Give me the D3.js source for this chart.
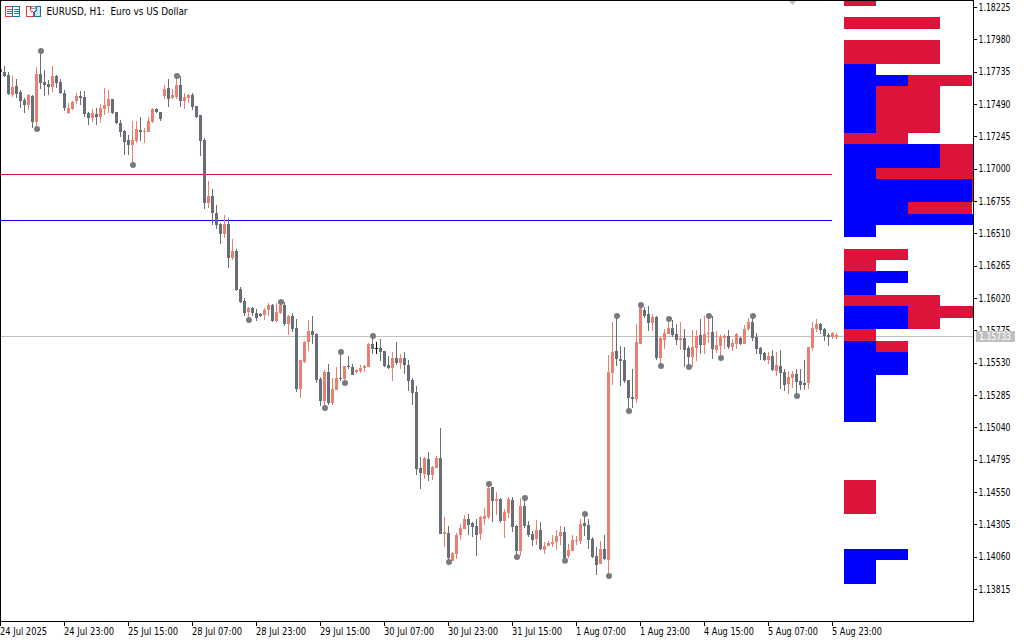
<!DOCTYPE html>
<html>
<head>
<meta charset="utf-8">
<script src="https://cdn.jsdelivr.net/npm/d3@7/dist/d3.min.js"></script>
<style>
html,body{margin:0;padding:0;background:#fff;overflow:hidden}
svg{display:block}
text{font-family:"DejaVu Sans",sans-serif;font-size:10px;fill:#000;white-space:pre}
</style>
</head>
<body>
<div id="chart"></div>
<script>
const timeTicks = [0,16,32,48,64,80,96,112,128,144,160,176,192,208];
const timeLabels = ["24 Jul 2025","24 Jul 23:00","25 Jul 15:00","28 Jul 07:00","28 Jul 23:00","29 Jul 15:00","30 Jul 07:00","30 Jul 23:00","31 Jul 15:00","1 Aug 07:00","1 Aug 23:00","4 Aug 15:00","5 Aug 07:00","5 Aug 23:00"];
const priceTicks = [1.18225,1.17980,1.17735,1.17490,1.17245,1.17000,1.16755,1.16510,1.16265,1.16020,1.15775,1.15530,1.15285,1.15040,1.14795,1.14550,1.14305,1.14060,1.13815];
const currentPrice = 1.15733;
const resistanceLevel = 1.16960;
const supportLevel = 1.16611;

const opens = [
1.17759,1.17736,1.17714,1.17562,1.17630,1.17585,1.17524,1.17486,1.17555,1.17357,
1.17721,1.17661,1.17645,1.17623,1.17706,1.17661,1.17577,1.17426,1.17456,1.17517,
1.17555,1.17547,1.17426,1.17388,1.17418,1.17395,1.17456,1.17479,1.17532,1.17433,
1.17350,1.17289,1.17221,1.17183,1.17214,1.17297,1.17282,1.17282,1.17357,1.17456,
1.17433,1.17555,1.17615,1.17539,1.17547,1.17638,1.17517,1.17539,1.17562,1.17479,
1.17411,1.17221,1.16744,1.16797,1.16668,1.16585,1.16509,1.16585,1.16327,1.16380,
1.16092,1.16001,1.15918,1.15948,1.15910,1.15903,1.15895,1.15933,1.15971,1.15850,
1.15910,1.15971,1.15827,1.15888,1.15797,1.15335,1.15539,1.15691,1.15774,1.15752,
1.15411,1.15244,1.15464,1.15229,1.15327,1.15418,1.15411,1.15509,1.15501,1.15464,
1.15471,1.15494,1.15501,1.15676,1.15645,1.15645,1.15623,1.15517,1.15494,1.15570,
1.15532,1.15570,1.15517,1.15403,1.15312,1.14736,1.14691,1.14805,1.14683,1.14736,
1.14812,1.14236,1.14244,1.14032,1.14085,1.14229,1.14274,1.14350,1.14320,1.14297,
1.14236,1.14350,1.14365,1.14592,1.14486,1.14501,1.14335,1.14395,1.14494,1.14297,
1.14107,1.14448,1.14304,1.14236,1.14198,1.14267,1.14115,1.14145,1.14160,1.14176,
1.14221,1.14251,1.14069,1.14107,1.14183,1.14183,1.14320,1.14304,1.14198,1.14069,
1.14009,1.14123,1.14039,1.15456,1.15623,1.15562,1.15555,1.15403,1.15274,1.15259,
1.15676,1.15933,1.15903,1.15835,1.15880,1.15570,1.15706,1.15752,1.15797,1.15752,
1.15706,1.15721,1.15645,1.15577,1.15645,1.15744,1.15668,1.15752,1.15767,1.15630,
1.15661,1.15721,1.15736,1.15653,1.15676,1.15721,1.15676,1.15789,1.15843,1.15729,
1.15645,1.15608,1.15555,1.15585,1.15471,1.15509,1.15464,1.15373,1.15418,1.15448,
1.15395,1.15380,1.15380,1.15645,1.15789,1.15827,1.15789,1.15744,1.15729,1.15729];

const highs = [
1.17777,1.17782,1.17739,1.17706,1.17683,1.17600,1.17539,1.17570,1.17562,1.17774,
1.17896,1.17752,1.17676,1.17782,1.17714,1.17683,1.17600,1.17501,1.17517,1.17577,
1.17592,1.17592,1.17433,1.17456,1.17464,1.17494,1.17615,1.17600,1.17532,1.17433,
1.17373,1.17297,1.17259,1.17365,1.17365,1.17395,1.17312,1.17395,1.17464,1.17464,
1.17433,1.17638,1.17683,1.17608,1.17706,1.17706,1.17577,1.17570,1.17577,1.17479,
1.17411,1.17236,1.16911,1.16850,1.16729,1.16592,1.16653,1.16630,1.16471,1.16395,
1.16107,1.16024,1.15956,1.15956,1.15941,1.15910,1.15948,1.15986,1.15978,1.15986,
1.15994,1.15994,1.15896,1.15911,1.15865,1.15555,1.15699,1.15858,1.15888,1.15759,
1.15426,1.15479,1.15524,1.15418,1.15501,1.15615,1.15509,1.15585,1.15524,1.15486,
1.15517,1.15517,1.15683,1.15736,1.15691,1.15714,1.15623,1.15585,1.15615,1.15691,
1.15600,1.15615,1.15555,1.15418,1.15358,1.14820,1.14820,1.14858,1.14752,1.14827,
1.15039,1.14365,1.14297,1.14100,1.14244,1.14312,1.14380,1.14388,1.14327,1.14350,
1.14373,1.14433,1.14615,1.14592,1.14554,1.14509,1.14426,1.14517,1.14517,1.14304,
1.14509,1.14509,1.14335,1.14259,1.14342,1.14327,1.14176,1.14183,1.14229,1.14267,
1.14297,1.14289,1.14160,1.14229,1.14221,1.14350,1.14388,1.14350,1.14213,1.14138,
1.14183,1.14229,1.15592,1.15843,1.15888,1.15661,1.15653,1.15403,1.15486,1.15827,
1.15971,1.15956,1.15964,1.15903,1.15888,1.15729,1.15789,1.15865,1.15858,1.15827,
1.15843,1.15789,1.15661,1.15782,1.15782,1.15865,1.15888,1.15888,1.15888,1.15774,
1.15744,1.15752,1.15782,1.15714,1.15759,1.15729,1.15820,1.15873,1.15888,1.15759,
1.15653,1.15615,1.15615,1.15630,1.15615,1.15630,1.15486,1.15471,1.15471,1.15486,
1.15486,1.15555,1.15653,1.15843,1.15865,1.15835,1.15797,1.15759,1.15767,1.15759];

const lows = [
1.17721,1.17698,1.17562,1.17547,1.17539,1.17464,1.17426,1.17448,1.17312,1.17304,
1.17608,1.17555,1.17562,1.17585,1.17615,1.17570,1.17441,1.17418,1.17448,1.17494,
1.17486,1.17395,1.17335,1.17357,1.17335,1.17350,1.17411,1.17426,1.17418,1.17342,
1.17244,1.17107,1.17107,1.17032,1.17198,1.17214,1.17198,1.17282,1.17350,1.17426,
1.17365,1.17532,1.17471,1.17532,1.17532,1.17471,1.17456,1.17501,1.17448,1.17388,
1.17100,1.16698,1.16706,1.16577,1.16547,1.16433,1.16479,1.16251,1.16312,1.16077,
1.15986,1.15887,1.15857,1.15887,1.15850,1.15880,1.15857,1.15887,1.15842,1.15842,
1.15903,1.15812,1.15744,1.15767,1.15312,1.15267,1.15532,1.15623,1.15676,1.15380,
1.15206,1.15191,1.15214,1.15214,1.15327,1.15395,1.15380,1.15486,1.15441,1.15448,
1.15456,1.15464,1.15501,1.15600,1.15600,1.15547,1.15501,1.15486,1.15395,1.15517,
1.15486,1.15448,1.15320,1.15214,1.14683,1.14577,1.14653,1.14638,1.14645,1.14736,
1.14236,1.14138,1.14024,1.14032,1.14047,1.14191,1.14274,1.14229,1.14213,1.14069,
1.14191,1.14304,1.14350,1.14327,1.14380,1.14320,1.14206,1.14357,1.14251,1.14062,
1.14069,1.14282,1.14213,1.14145,1.14153,1.14115,1.14085,1.14145,1.14138,1.14115,
1.14153,1.14032,1.14054,1.14107,1.14153,1.14160,1.14221,1.14123,1.14054,1.13926,
1.14009,1.14039,1.13918,1.15365,1.15509,1.15358,1.15380,1.15168,1.15191,1.15229,
1.15676,1.15873,1.15774,1.15774,1.15555,1.15509,1.15638,1.15752,1.15729,1.15668,
1.15630,1.15501,1.15501,1.15501,1.15547,1.15600,1.15600,1.15683,1.15562,1.15608,
1.15570,1.15638,1.15638,1.15623,1.15638,1.15668,1.15676,1.15774,1.15699,1.15600,
1.15555,1.15547,1.15524,1.15471,1.15433,1.15335,1.15320,1.15297,1.15342,1.15282,
1.15327,1.15327,1.15335,1.15623,1.15767,1.15752,1.15699,1.15661,1.15714,1.15714];

const closes = [
1.17736,1.17706,1.17570,1.17623,1.17570,1.17517,1.17486,1.17562,1.17357,1.17721,
1.17653,1.17638,1.17623,1.17706,1.17653,1.17577,1.17464,1.17464,1.17509,1.17555,
1.17539,1.17418,1.17388,1.17426,1.17395,1.17464,1.17486,1.17532,1.17426,1.17350,
1.17282,1.17206,1.17183,1.17221,1.17304,1.17282,1.17289,1.17365,1.17456,1.17433,
1.17380,1.17608,1.17532,1.17562,1.17638,1.17517,1.17547,1.17562,1.17471,1.17395,
1.17214,1.16744,1.16797,1.16668,1.16577,1.16509,1.16585,1.16327,1.16380,1.16085,
1.15994,1.15910,1.15948,1.15910,1.15872,1.15887,1.15933,1.15971,1.15850,1.15918,
1.15971,1.15827,1.15888,1.15789,1.15335,1.15555,1.15691,1.15774,1.15744,1.15403,
1.15244,1.15464,1.15229,1.15335,1.15418,1.15411,1.15509,1.15501,1.15441,1.15479,
1.15494,1.15509,1.15676,1.15638,1.15645,1.15615,1.15509,1.15494,1.15570,1.15532,
1.15570,1.15517,1.15395,1.15304,1.14729,1.14698,1.14812,1.14683,1.14744,1.14812,
1.14236,1.14251,1.14054,1.14092,1.14229,1.14282,1.14350,1.14304,1.14289,1.14229,
1.14365,1.14373,1.14585,1.14486,1.14501,1.14335,1.14403,1.14501,1.14289,1.14107,
1.14448,1.14297,1.14229,1.14191,1.14267,1.14123,1.14145,1.14168,1.14176,1.14221,
1.14251,1.14054,1.14115,1.14191,1.14191,1.14312,1.14297,1.14191,1.14062,1.14001,
1.14123,1.14047,1.15464,1.15615,1.15562,1.15547,1.15395,1.15267,1.15259,1.15691,
1.15956,1.15888,1.15835,1.15880,1.15570,1.15721,1.15759,1.15797,1.15744,1.15706,
1.15721,1.15630,1.15577,1.15653,1.15736,1.15668,1.15752,1.15759,1.15638,1.15668,
1.15729,1.15736,1.15653,1.15683,1.15752,1.15676,1.15789,1.15843,1.15721,1.15638,
1.15600,1.15555,1.15585,1.15479,1.15517,1.15456,1.15365,1.15426,1.15448,1.15388,
1.15365,1.15365,1.15653,1.15797,1.15827,1.15782,1.15736,1.15729,1.15759,1.15744];

const swingHighBars = [10,44,70,85,93,122,131,146,154,160,167,177,188];
const swingLowBars = [9,33,62,81,86,112,129,141,152,157,165,172,180,199];

const levelEdges = [
1.18328,1.18240,1.18152,1.18065,1.17977,1.17890,1.17796,1.17714,1.17627,1.17539,
1.17452,1.17364,1.17276,1.17189,1.17101,1.17006,1.16926,1.16838,1.16751,1.16663,
1.16576,1.16488,1.16393,1.16313,1.16225,1.16138,1.16050,1.15962,1.15875,1.15787,
1.15700,1.15612,1.15524,1.15437,1.15349,1.15262,1.15174,1.15086,1.14999,1.14911,
1.14824,1.14736,1.14648,1.14561,1.14473,1.14386,1.14298,1.14210,1.14123,1.14035,
1.13948,1.13860];
const levelBlue = [
0,0,0,0,0,0,1,2,1,1,
1,1,0,3,3,1,4,4,2,5,
1,0,0,0,2,1,0,2,2,0,
1,2,2,1,1,1,1,0,0,0,
0,0,0,0,0,0,0,0,2,1,1];
const levelRed = [
1,0,3,0,3,3,0,2,2,2,
2,2,2,2,2,4,1,1,2,0,
0,0,2,1,0,0,3,3,1,1,
1,0,0,0,0,0,0,0,0,0,
0,0,1,1,1,0,0,0,0,0,0];

const W = 1024, H = 640;
const GRAY = "#696e76", RED = "#ec8070", CRIMSON = "#dc143c", BLUE = "#0000ff", SILVER = "#c0c0c0";

const x = d3.scaleLinear().domain([0,208]).range([0.5,832.5]);
const y = d3.scaleLinear().domain([1.18225,1.13815]).range([7.5,589.5]);
const xProfile = d3.scaleLinear().domain([0,5]).range([844,1004]);

const svg = d3.select("#chart").append("svg").attr("width",W).attr("height",H).attr("viewBox",`0 0 ${W} ${H}`);
svg.append("rect").attr("width",W).attr("height",H).attr("fill","#fff");
svg.append("defs").append("clipPath").attr("id","plotClip").append("rect")
  .attr("x",1).attr("y",1).attr("width",972).attr("height",620);

const gPlot = svg.append("g").attr("clip-path","url(#plotClip)").attr("shape-rendering","crispEdges");

// current price + level lines
gPlot.append("line").attr("x1",0).attr("x2",973).attr("y1",Math.floor(y(currentPrice))+0.5).attr("y2",Math.floor(y(currentPrice))+0.5).attr("stroke",SILVER);
gPlot.append("line").attr("x1",0).attr("x2",832).attr("y1",Math.floor(y(resistanceLevel))+0.5).attr("y2",Math.floor(y(resistanceLevel))+0.5).attr("stroke",CRIMSON);
gPlot.append("line").attr("x1",0).attr("x2",832).attr("y1",Math.floor(y(supportLevel))+0.5).attr("y2",Math.floor(y(supportLevel))+0.5).attr("stroke",BLUE);

// candles
const bars = opens.map((o,i)=>({i,o,h:highs[i],l:lows[i],c:closes[i]}));
const colorOf = d => d.c===d.o ? "#000" : (d.c>d.o ? RED : GRAY);
const gCandles = gPlot.append("g");
gCandles.selectAll("rect.wick").data(bars).join("rect").attr("class","wick")
  .attr("x",d=>Math.floor(x(d.i)))
  .attr("width",1)
  .attr("y",d=>Math.round(y(d.h)))
  .attr("height",d=>Math.max(1,Math.round(y(d.l))-Math.round(y(d.h))))
  .attr("fill",colorOf);
gCandles.selectAll("rect.body").data(bars).join("rect").attr("class","body")
  .attr("x",d=>Math.floor(x(d.i))-1)
  .attr("width",3)
  .attr("y",d=>Math.round(y(Math.max(d.o,d.c))))
  .attr("height",d=>Math.max(1,Math.round(y(Math.min(d.o,d.c)))-Math.round(y(Math.max(d.o,d.c)))))
  .attr("fill",colorOf);

// price profile
const rows = levelBlue.map((b,k)=>({b,r:levelRed[k],top:levelEdges[k],bottom:levelEdges[k+1]}));
const gProfile = gPlot.append("g");
const rowY = d=>Math.round(y(d.top));
const rowH = d=>Math.round(y(d.bottom))-Math.round(y(d.top));
gProfile.selectAll("rect.blue").data(rows.filter(d=>d.b>0)).join("rect").attr("class","blue")
  .attr("x",xProfile(0)).attr("width",d=>xProfile(d.b)-xProfile(0))
  .attr("y",rowY).attr("height",rowH).attr("fill",BLUE);
gProfile.selectAll("rect.red").data(rows.filter(d=>d.r>0)).join("rect").attr("class","red")
  .attr("x",d=>xProfile(d.b)).attr("width",d=>xProfile(d.r)-xProfile(0))
  .attr("y",rowY).attr("height",rowH).attr("fill",CRIMSON);

// swing dots
const gDots = svg.append("g");
gDots.selectAll("circle.hi").data(swingHighBars).join("circle").attr("class","hi")
  .attr("cx",i=>x(i)+0.5).attr("cy",i=>y(highs[i])).attr("r",3).attr("fill","#777b80");
gDots.selectAll("circle.lo").data(swingLowBars).join("circle").attr("class","lo")
  .attr("cx",i=>x(i)+0.5).attr("cy",i=>y(lows[i])).attr("r",3).attr("fill","#777b80");

// small marker at the top edge
gPlot.append("path").attr("d","M788,0 L797,0 L792.5,5 Z").attr("fill",SILVER).attr("shape-rendering","auto");

// axes
const axisRight = d3.axisRight(y).tickValues(priceTicks).tickSize(3).tickPadding(2).offset(0).tickFormat(d3.format(".5f"));
const gR = svg.append("g").attr("transform","translate(973.5,0)").attr("shape-rendering","crispEdges").call(axisRight);
gR.select(".domain").attr("d","M0,0V621").attr("stroke","#000");
gR.selectAll("text").attr("font-size",10).attr("font-family",'"DejaVu Sans"')
  .attr("textLength",32).attr("lengthAdjust","spacingAndGlyphs");
gR.selectAll("line").attr("stroke","#000");

const axisBottom = d3.axisBottom(x).tickValues(timeTicks).tickSize(4).tickPadding(2).offset(0)
  .tickFormat((d,i)=>timeLabels[i]);
const gB = svg.append("g").attr("transform","translate(0,621.5)").attr("shape-rendering","crispEdges").call(axisBottom);
gB.select(".domain").attr("d","M0,0H974").attr("stroke","#000");
gB.selectAll("line").attr("stroke","#000");
gB.selectAll("text").attr("text-anchor","start").attr("x",-0.5).attr("y",6).attr("dy","0.71em")
  .attr("font-size",10).attr("font-family",'"DejaVu Sans"')
  .attr("textLength",(d,i)=> i===0 ? 47 : 50)
  .attr("lengthAdjust","spacingAndGlyphs");

// frame
svg.append("line").attr("x1",0.5).attr("x2",0.5).attr("y1",0).attr("y2",622).attr("stroke","#000").attr("shape-rendering","crispEdges");
svg.append("line").attr("x1",0).attr("x2",974).attr("y1",0.5).attr("y2",0.5).attr("stroke","#000").attr("shape-rendering","crispEdges");

// current price tag
const tagY = y(currentPrice);
svg.append("rect").attr("x",976).attr("y",Math.round(tagY)-5).attr("width",39).attr("height",11).attr("fill",SILVER);
svg.append("text").attr("x",979).attr("y",tagY+4).attr("textLength",32).attr("lengthAdjust","spacingAndGlyphs")
  .style("fill","#fff").text(d3.format(".5f")(currentPrice));

// title and icons
svg.append("text").attr("x",46.5).attr("y",15).attr("textLength",141).attr("lengthAdjust","spacingAndGlyphs").text("EURUSD, H1:  Euro vs US Dollar");
const ic = svg.append("g").attr("shape-rendering","crispEdges").attr("fill","none");
ic.append("rect").attr("x",5.5).attr("y",6.5).attr("width",7).attr("height",9.5).attr("stroke","#e5383b").attr("fill","#fff");
ic.append("rect").attr("x",12.5).attr("y",6.5).attr("width",7).attr("height",9.5).attr("stroke","#1b6fb5").attr("fill","#fff");
[9.5,11.5,13.5].forEach(v=>{
  ic.append("line").attr("x1",7).attr("x2",12).attr("y1",v).attr("y2",v).attr("stroke","#e5383b");
  ic.append("line").attr("x1",14).attr("x2",19).attr("y1",v).attr("y2",v).attr("stroke","#1b6fb5");
});
ic.append("path").attr("d","M26.5,6.5H30.5V10.5L33.5,12.5V16.5H26.5Z").attr("stroke","#e5383b").attr("fill","#fff");
ic.append("path").attr("d","M36.5,6.5H40.5V16.5H34.5V11.5L36.5,10.5Z").attr("stroke","#1b6fb5").attr("fill","#cfe6f7");
ic.append("rect").attr("x",31.5).attr("y",6.5).attr("width",4).attr("height",2).attr("stroke","#999");
</script>
</body>
</html>
